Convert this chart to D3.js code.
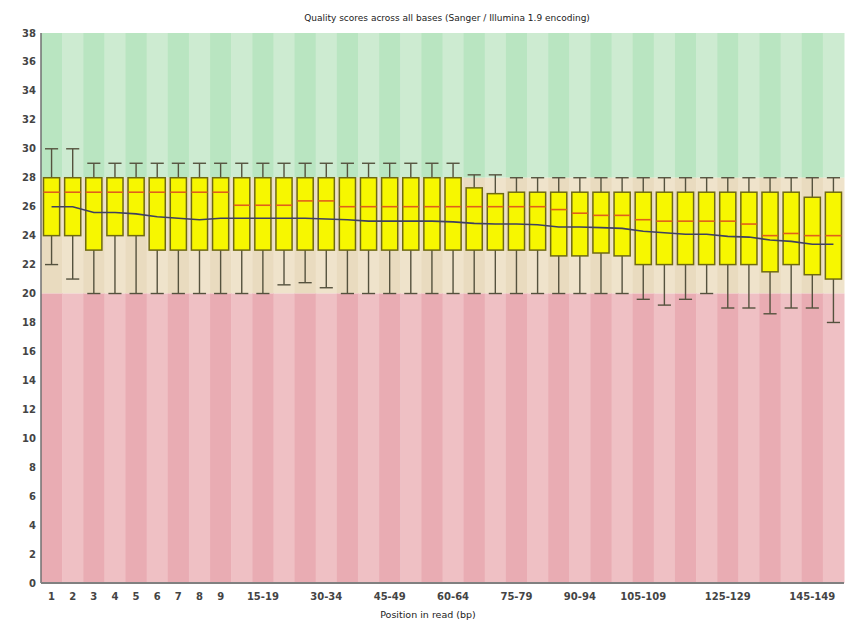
<!DOCTYPE html>
<html><head><meta charset="utf-8">
<script src="https://cdn.jsdelivr.net/npm/d3@7"></script>
<style>body{margin:0;background:#fff;} svg{display:block;}</style>
</head><body>
<svg id="chart" width="845" height="622"></svg>
<script>
const categories = ["1","2","3","4","5","6","7","8","9","10-14","15-19","20-24","25-29","30-34","35-39","40-44","45-49","50-54","55-59","60-64","65-69","70-74","75-79","80-84","85-89","90-94","95-99","100-104","105-109","110-114","115-119","120-124","125-129","130-134","135-139","140-144","145-149","150-151"];
const upperWhisker = [30,30,29,29,29,29,29,29,29,29,29,29,29,29,29,29,29,29,29,29,28.2,28.2,28,28,28,28,28,28,28,28,28,28,28,28,28,28,28,28];
const upperQuartile = [28,28,28,28,28,28,28,28,28,28,28,28,28,28,28,28,28,28,28,28,27.3,26.9,27,27,27,27,27,27,27,27,27,27,27,27,27,27,26.65,27];
const medianVals = [27,27,27,27,27,27,27,27,27,26.1,26.1,26.1,26.4,26.4,26,26,26,26,26,26,26,26,26,26,25.8,25.55,25.4,25.4,25.1,25,25,25,25,24.8,24,24.15,24,24];
const lowerQuartile = [24,24,23,24,24,23,23,23,23,23,23,23,23,23,23,23,23,23,23,23,23,23,23,23,22.6,22.6,22.8,22.6,22,22,22,22,22,22,21.5,22,21.3,21];
const lowerWhisker = [22,21,20,20,20,20,20,20,20,20,20,20.6,20.75,20.4,20,20,20,20,20,20,20,20,20,20,20,20,20,20,19.6,19.2,19.6,20,19,19,18.6,19,19,18];
const meanVals = [26,26,25.6,25.6,25.5,25.3,25.2,25.1,25.2,25.2,25.2,25.2,25.2,25.15,25.1,25,25,25,25,24.95,24.85,24.8,24.8,24.75,24.6,24.6,24.55,24.5,24.3,24.2,24.1,24.1,23.95,23.9,23.7,23.6,23.4,23.4];
const xTickLabels = ["1","2","3","4","5","6","7","8","9","15-19","30-34","45-49","60-64","75-79","90-94","105-109","125-129","145-149"];
const yTicks = d3.range(0, 39, 2);
const zones = [{from:28,to:38,c:["#b9e5c1","#cdebd1"]},{from:20,to:28,c:["#e9dbbf","#efe3cb"]},{from:0,to:20,c:["#e9acb3","#efc0c4"]}];

const L = 41, R = 844, T = 33, B = 583;
const svg = d3.select("#chart");
const x = d3.scaleBand().domain(categories).range([L, R]).padding(0);
const y = d3.scaleLinear().domain([0, 38]).range([B, T]);
const bw = x.bandwidth();

// background stripes
zones.forEach(z => {
  svg.append("g").selectAll("rect").data(categories).join("rect")
    .attr("x", d => x(d)).attr("width", bw + 0.5)
    .attr("y", y(z.to)).attr("height", y(z.from) - y(z.to))
    .attr("fill", (d, i) => z.c[i % 2]);
});

const data = categories.map((c, i) => ({c, up: upperWhisker[i], q3: upperQuartile[i], med: medianVals[i], q1: lowerQuartile[i], lo: lowerWhisker[i], mean: meanVals[i]}));
const g = svg.append("g");
const wc = "#55523e";
// whiskers
g.selectAll(".wu").data(data).join("line")
  .attr("x1", d => x(d.c) + bw/2).attr("x2", d => x(d.c) + bw/2)
  .attr("y1", d => y(d.up)).attr("y2", d => y(d.lo))
  .attr("stroke", wc).attr("stroke-width", 1.4);
g.selectAll(".cu").data(data).join("line")
  .attr("x1", d => x(d.c) + 4).attr("x2", d => x(d.c) + bw - 4)
  .attr("y1", d => y(d.up)).attr("y2", d => y(d.up))
  .attr("stroke", wc).attr("stroke-width", 1.4);
g.selectAll(".cl").data(data).join("line")
  .attr("x1", d => x(d.c) + 4).attr("x2", d => x(d.c) + bw - 4)
  .attr("y1", d => y(d.lo)).attr("y2", d => y(d.lo))
  .attr("stroke", wc).attr("stroke-width", 1.4);
// boxes
g.selectAll(".box").data(data).join("rect")
  .attr("x", d => x(d.c) + 2.5).attr("width", bw - 5)
  .attr("y", d => y(d.q3)).attr("height", d => y(d.q1) - y(d.q3))
  .attr("fill", "#f7f700").attr("stroke", "#6f6a12").attr("stroke-width", 1.5);
// median
g.selectAll(".med").data(data).join("line")
  .attr("x1", d => x(d.c) + 2.5).attr("x2", d => x(d.c) + bw - 2.5)
  .attr("y1", d => y(d.med)).attr("y2", d => y(d.med))
  .attr("stroke", "#e0601a").attr("stroke-width", 1.6);
// mean line
svg.append("path").datum(data)
  .attr("d", d3.line().x(d => x(d.c) + bw/2).y(d => y(d.mean)))
  .attr("fill", "none").attr("stroke", "#3f4060").attr("stroke-width", 1.6);

// axes lines
svg.append("line").attr("x1", L).attr("x2", L).attr("y1", T).attr("y2", B).attr("stroke", "#707070").attr("stroke-width", 1.5);
svg.append("line").attr("x1", L).attr("x2", R).attr("y1", B).attr("y2", B).attr("stroke", "#808080").attr("stroke-width", 2);

// y labels
svg.append("g").selectAll("text").data(yTicks).join("text")
  .attr("x", 36).attr("y", d => y(d) + 3.5).attr("text-anchor", "end")
  .attr("font-family", "DejaVu Sans").attr("font-size", 10).attr("font-weight", "bold").attr("fill", "#444")
  .text(d => d);
// x labels
svg.append("g").selectAll("text").data(xTickLabels).join("text")
  .attr("x", d => x(d) + bw/2).attr("y", 600).attr("text-anchor", "middle")
  .attr("font-family", "DejaVu Sans").attr("font-size", 10).attr("font-weight", "bold").attr("fill", "#444")
  .text(d => d);

svg.append("text").attr("x", 447).attr("y", 21).attr("text-anchor", "middle")
  .attr("font-family", "DejaVu Sans").attr("font-size", 9).attr("fill", "#222")
  .text("Quality scores across all bases (Sanger / Illumina 1.9 encoding)");
svg.append("text").attr("x", 428).attr("y", 618).attr("text-anchor", "middle")
  .attr("font-family", "DejaVu Sans").attr("font-size", 9.5).attr("fill", "#222")
  .text("Position in read (bp)");
</script>
</body></html>
